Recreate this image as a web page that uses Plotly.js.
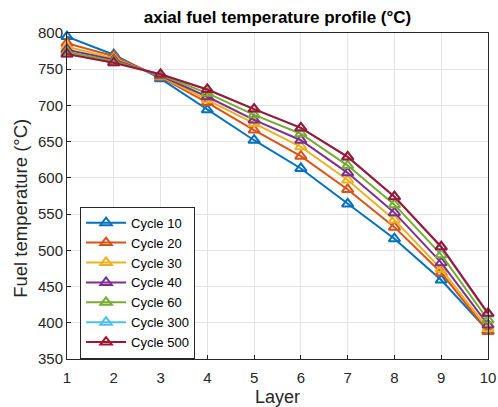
<!DOCTYPE html>
<html>
<head>
<meta charset="utf-8">
<script src="https://cdn.plot.ly/plotly-3.0.1.min.js"></script>
<style>html,body{margin:0;padding:0;background:#fff;}#chart{width:498px;height:407px;}</style>
</head>
<body>
<div id="chart"></div>
<script>
const layers = [1, 2, 3, 4, 5, 6, 7, 8, 9, 10];
const seriesNames = ["Cycle 10", "Cycle 20", "Cycle 30", "Cycle 40", "Cycle 60", "Cycle 300", "Cycle 500"];
const cycle10  = [795, 770, 737, 694, 652, 613, 564, 516, 459, 389];
const cycle20  = [786, 768, 739, 704, 666, 630, 584, 532, 469, 388];
const cycle30  = [781, 765, 740, 708, 675, 643, 597, 542, 474, 392];
const cycle40  = [777, 763, 741, 712, 680, 652, 607, 552, 483, 397];
const cycle60  = [774, 761, 742, 717, 687, 661, 617, 563, 494, 404];
const cycle300 = [771, 759, 743, 722, 695, 669, 629, 574, 504, 412];
const cycle500 = [771, 759, 743, 722, 695, 669, 629, 574, 505, 413];
const seriesValues = [cycle10, cycle20, cycle30, cycle40, cycle60, cycle300, cycle500];
const colors = ["#0072BD", "#D95319", "#EDB120", "#7E2F8E", "#77AC30", "#4DBEEE", "#A2142F"];
const yTicks = [350, 400, 450, 500, 550, 600, 650, 700, 750, 800];

const traces = seriesNames.map((name, i) => ({
  x: layers,
  y: seriesValues[i],
  name: name,
  type: "scatter",
  mode: "lines+markers",
  cliponaxis: false,
  line: {color: colors[i], width: 2},
  marker: {symbol: "triangle-up-open", size: 10, color: colors[i], line: {color: colors[i], width: 2}}
}));

const font = "Liberation Sans, Arial, Helvetica, sans-serif";
const axisCommon = {
  showgrid: true,
  gridcolor: "#e3e3e3",
  gridwidth: 1,
  showline: true,
  linecolor: "#262626",
  linewidth: 1,
  mirror: true,
  ticks: "inside",
  ticklen: 4,
  tickcolor: "#262626",
  zeroline: false,
  tickfont: {family: font, size: 15, color: "#262626"}
};

const layout = {
  width: 498,
  height: 407,
  margin: {l: 67, r: 10, t: 33, b: 47.5},
  paper_bgcolor: "#ffffff",
  plot_bgcolor: "#ffffff",
  font: {family: font, color: "#262626"},
  title: {
    text: "<b>axial fuel temperature profile (°C)</b>",
    font: {family: font, size: 17, color: "#000000"},
    x: 0.5, xref: "paper", xanchor: "center",
    y: 0.958, yref: "container", yanchor: "middle"
  },
  xaxis: Object.assign({}, axisCommon, {
    range: [1, 10],
    tickvals: layers,
    ticklabelstandoff: 5,
    title: {text: "Layer", font: {family: font, size: 18, color: "#262626"}, standoff: 7}
  }),
  yaxis: Object.assign({}, axisCommon, {
    range: [350, 800],
    tickvals: yTicks
  }),
  annotations: [{
    text: "Fuel temperature (°C)",
    xref: "paper", yref: "paper",
    x: -0.109, y: 0.461,
    xanchor: "center", yanchor: "middle",
    textangle: -90,
    showarrow: false,
    font: {family: font, size: 18.5, color: "#262626"}
  }],
  showlegend: true,
  legend: {
    x: 0.031, y: 0.467, xanchor: "left", yanchor: "top",
    bgcolor: "#ffffff",
    bordercolor: "#262626",
    borderwidth: 1,
    font: {family: font, size: 13, color: "#000000"},
    tracegroupgap: 0,
    itemwidth: 40
  }
};

Plotly.newPlot("chart", traces, layout, {displayModeBar: false, staticPlot: true});
</script>
</body>
</html>
